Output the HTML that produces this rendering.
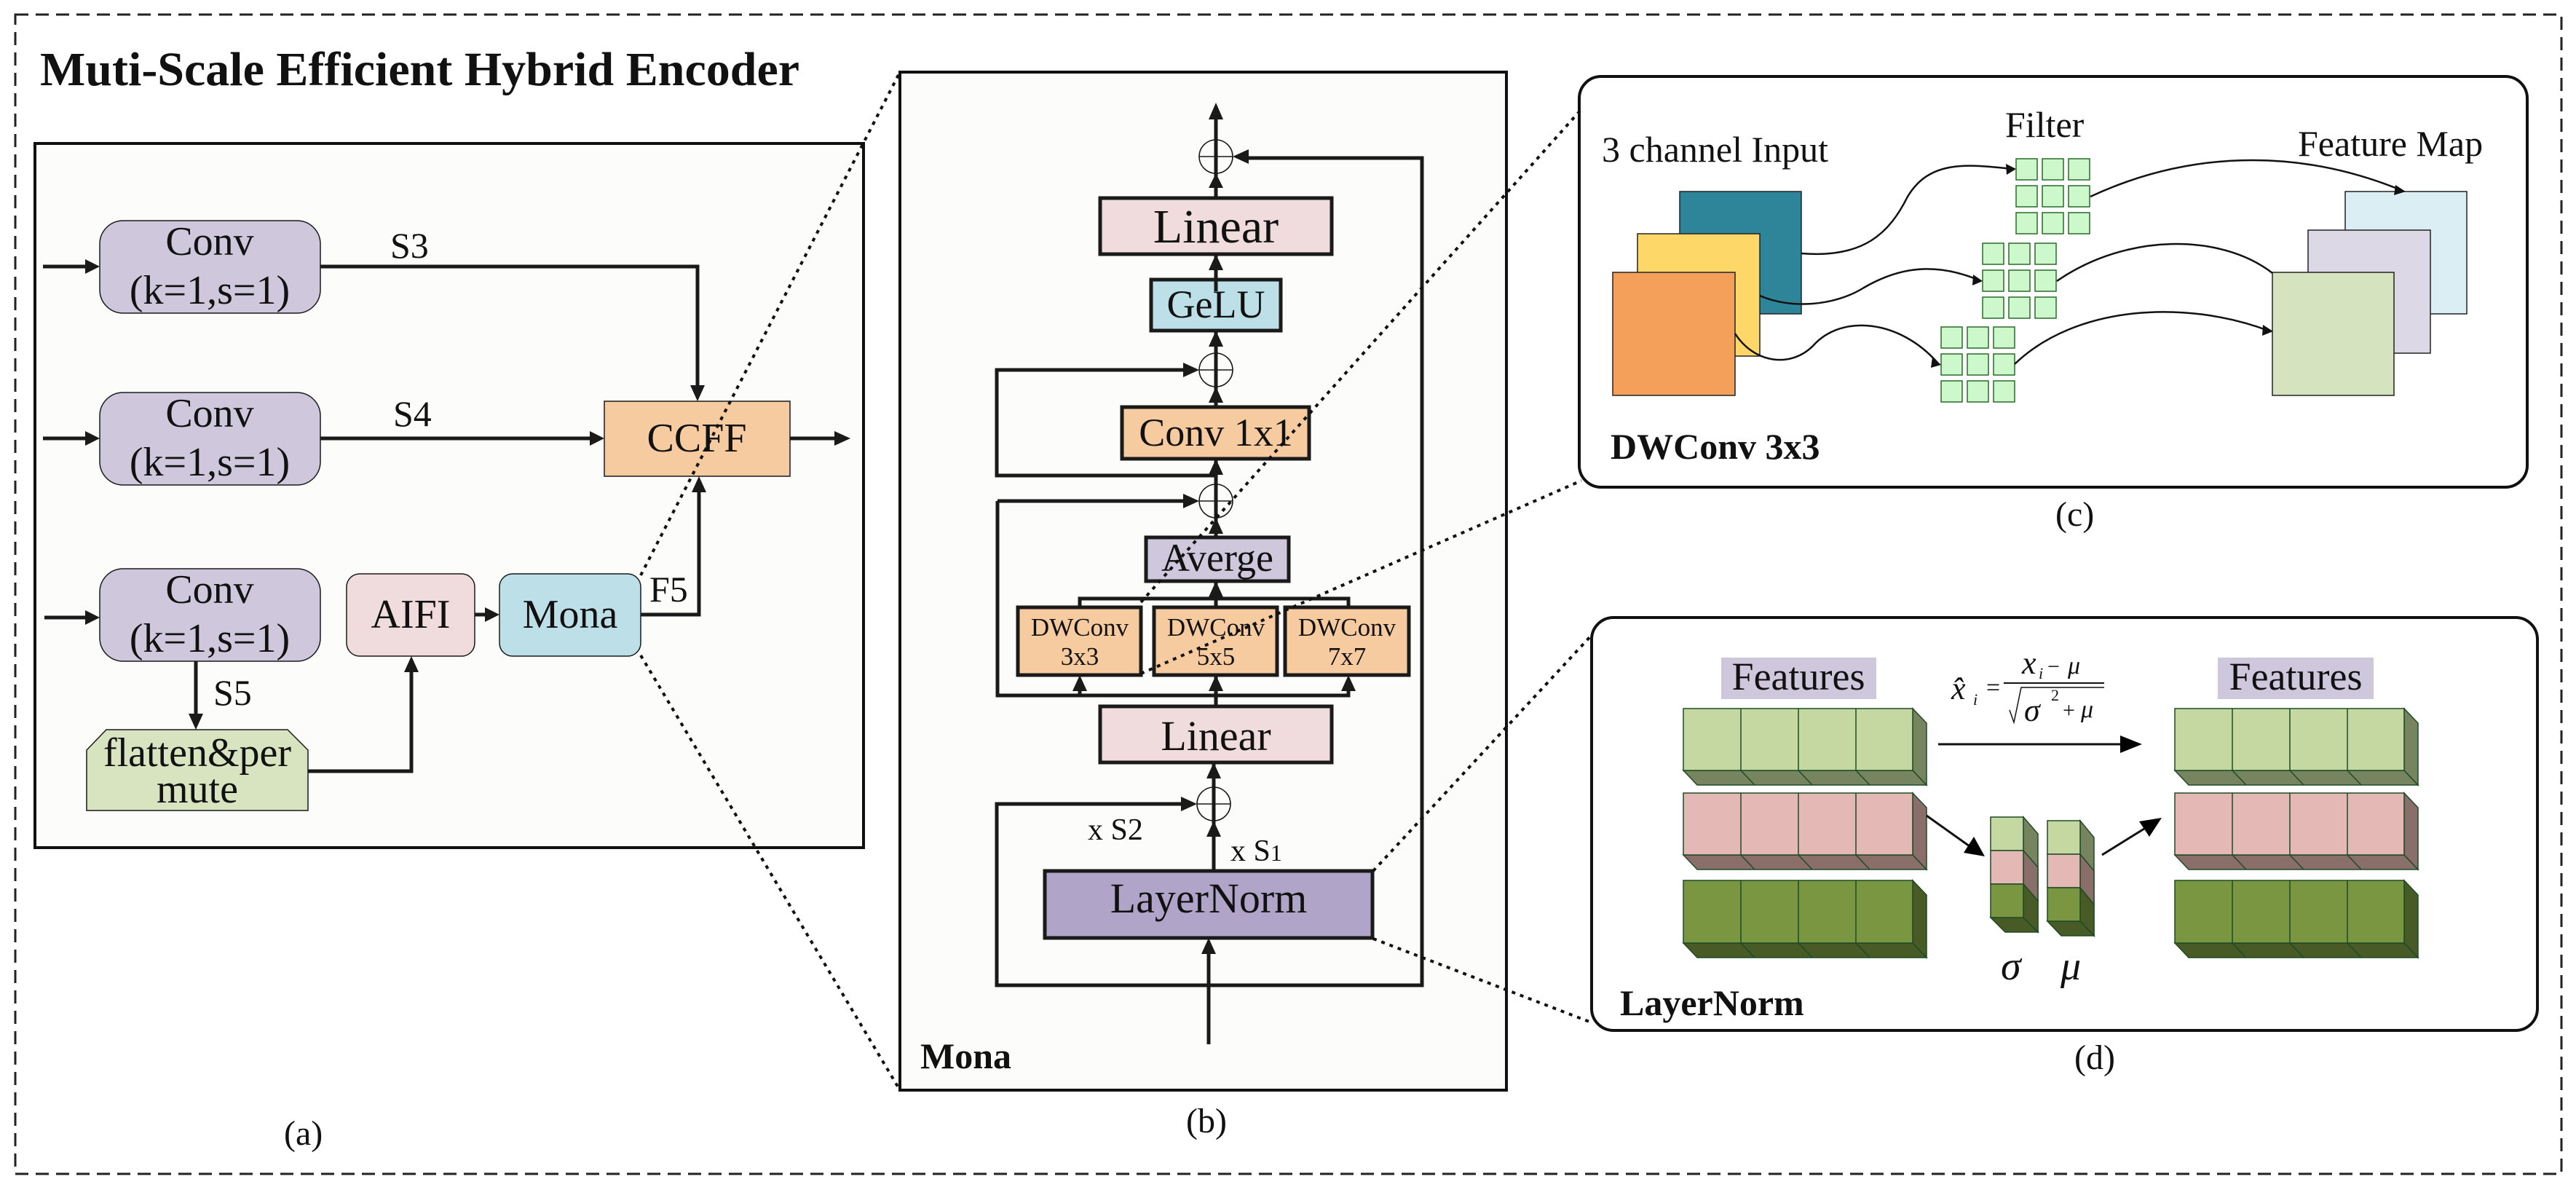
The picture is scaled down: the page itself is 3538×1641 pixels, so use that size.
<!DOCTYPE html>
<html><head><meta charset="utf-8"><style>
html,body{margin:0;padding:0;background:#fff}
svg{display:block}
svg text{font-family:"Liberation Serif","DejaVu Serif",serif;fill:#111}
</style></head><body>
<svg width="3538" height="1641" viewBox="0 0 3538 1641" xmlns="http://www.w3.org/2000/svg" font-family="Liberation Serif, serif">
<rect x="0" y="0" width="3538" height="1641" fill="#fff"/>
<rect x="21" y="20" width="3497" height="1592" fill="none" stroke="#222" stroke-width="3" stroke-dasharray="18,10"/>
<text x="55" y="117" font-size="66" font-weight="bold" font-family="Liberation Serif, serif">Muti-Scale Efficient Hybrid Encoder</text>

<!-- panel a -->
<rect x="48" y="197" width="1138" height="967" fill="#fcfcfa" stroke="#111" stroke-width="4"/>
<g stroke="#1a1a1a" stroke-width="1.5">
<rect x="137" y="303" width="303" height="127" rx="32" fill="#cfc8dc"/>
<rect x="137" y="539" width="303" height="127" rx="32" fill="#cfc8dc"/>
<rect x="137" y="781" width="303" height="127" rx="32" fill="#cfc8dc"/>
<rect x="830" y="551" width="255" height="103" fill="#f7cba0"/>
<rect x="476" y="788" width="176" height="113" rx="18" fill="#f0dcdc"/>
<rect x="686" y="788" width="194" height="113" rx="18" fill="#bde0e8"/>
<polygon points="119,1030 146,1002 395,1002 423,1030 423,1113 119,1113" fill="#d8e4c0"/>
</g>
<g font-size="56" text-anchor="middle" font-family="Liberation Serif, serif">
<text x="288" y="350">Conv</text><text x="288" y="417">(k=1,s=1)</text>
<text x="288" y="586">Conv</text><text x="288" y="653">(k=1,s=1)</text>
<text x="288" y="828">Conv</text><text x="288" y="895">(k=1,s=1)</text>
<text x="957" y="620">CCFF</text>
<text x="564" y="862">AIFI</text>
<text x="783" y="862">Mona</text>
<text x="271" y="1052">flatten&amp;per</text>
<text x="271" y="1102">mute</text>
</g>
<g font-size="50" font-family="Liberation Serif, serif">
<text x="536" y="354">S3</text>
<text x="540" y="585">S4</text>
<text x="293" y="968">S5</text>
<text x="892" y="826">F5</text>
<text x="390" y="1572" font-size="48">(a)</text>
</g>
<g stroke="#1a1a1a" stroke-width="5" fill="none">
<line x1="59" y1="366" x2="122" y2="366"/>
<line x1="59" y1="602" x2="122" y2="602"/>
<line x1="61" y1="848" x2="122" y2="848"/>
<polyline points="440,366 958,366 958,535"/>
<line x1="440" y1="602" x2="815" y2="602"/>
<line x1="1085" y1="602" x2="1152" y2="602"/>
<line x1="269" y1="908" x2="269" y2="985"/>
<polyline points="423,1059 565,1059 565,916"/>
<line x1="652" y1="844" x2="671" y2="844"/>
<polyline points="880,844 960,844 960,669"/>
</g>
<g fill="#1a1a1a">
<polygon points="137,366 117,356 117,376"/>
<polygon points="137,602 117,592 117,612"/>
<polygon points="137,848 117,838 117,858"/>
<polygon points="958,551 948,529 968,529"/>
<polygon points="830,602 810,592 810,612"/>
<polygon points="1168,602 1146,592 1146,612"/>
<polygon points="269,1002 259,980 279,980"/>
<polygon points="565,901 555,923 575,923"/>
<polygon points="686,844 666,834 666,854"/>
<polygon points="960,654 950,676 970,676"/>
</g>

<!-- panel b -->
<rect x="1236" y="99" width="833" height="1398" fill="#fcfcfa" stroke="#111" stroke-width="4"/>
<text x="1264" y="1467" font-size="50" font-weight="bold" font-family="Liberation Serif, serif">Mona</text>
<text x="1629" y="1555" font-size="48" font-family="Liberation Serif, serif">(b)</text>
<g stroke="#1a1a1a" stroke-width="5">
<rect x="1511" y="272" width="318" height="77" fill="#f0dcdc"/>
<rect x="1581" y="384" width="178" height="70" fill="#bde0e8"/>
<rect x="1541" y="559" width="257" height="71" fill="#f7cba0"/>
<rect x="1574" y="738" width="196" height="60" fill="#cfc8dc"/>
<rect x="1398" y="834" width="169" height="93" fill="#f7cba0"/>
<rect x="1585" y="834" width="169" height="93" fill="#f7cba0"/>
<rect x="1765" y="834" width="170" height="93" fill="#f7cba0"/>
<rect x="1511" y="970" width="318" height="77" fill="#f0dcdc"/>
<rect x="1435" y="1196" width="450" height="92" fill="#b0a4c8"/>
</g>
<g text-anchor="middle" font-family="Liberation Serif, serif">
<text x="1670" y="333" font-size="66">Linear</text>
<text x="1670" y="436" font-size="54">GeLU</text>
<text x="1670" y="612" font-size="54">Conv 1x1</text>
<text x="1672" y="784" font-size="54">Averge</text>
<g font-size="35"><text x="1483" y="873">DWConv</text><text x="1483" y="913">3x3</text>
<text x="1670" y="873">DWConv</text><text x="1670" y="913">5x5</text>
<text x="1850" y="873">DWConv</text><text x="1850" y="913">7x7</text></g>
<text x="1670" y="1030" font-size="58">Linear</text>
<text x="1660" y="1253" font-size="58">LayerNorm</text>
</g>
<text x="1494" y="1153" font-size="42" font-family="Liberation Serif, serif">x S2</text>
<text x="1690" y="1182" font-size="42" font-family="Liberation Serif, serif">x S<tspan font-size="32">1</tspan></text>
<g stroke="#1a1a1a" stroke-width="5" fill="none">
<line x1="1670" y1="160" x2="1670" y2="272"/>
<line x1="1670" y1="349" x2="1670" y2="400"/>
<line x1="1670" y1="454" x2="1670" y2="559"/>
<line x1="1670" y1="630" x2="1670" y2="738"/>
<line x1="1670" y1="798" x2="1670" y2="834"/>
<polyline points="1483,834 1483,822 1852,822 1852,834"/>
<line x1="1670" y1="927" x2="1670" y2="970"/>
<polyline points="1370,688 1370,955 1852,955 1852,945"/>
<line x1="1483" y1="955" x2="1483" y2="945"/>
<polyline points="1670,653 1369,653 1369,508 1627,508"/>
<line x1="1370" y1="688" x2="1627" y2="688"/>
<line x1="1667" y1="1047" x2="1667" y2="1196"/>
<polyline points="1670,1353 1369,1353 1369,1104 1625,1104"/>
<polyline points="1670,1353 1953,1353 1953,217 1715,217"/>
<line x1="1660" y1="1434" x2="1660" y2="1305"/>
</g>
<g fill="#1a1a1a">
<polygon points="1670,141 1660,164 1680,164"/>
<polygon points="1670,238 1660,258 1680,258"/>
<polygon points="1670,349 1660,371 1680,371"/>
<polygon points="1670,454 1660,476 1680,476"/>
<polygon points="1670,531 1660,553 1680,553"/>
<polygon points="1670,630 1660,652 1680,652"/>
<polygon points="1670,711 1660,733 1680,733"/>
<polygon points="1670,798 1660,820 1680,820"/>
<polygon points="1483,927 1473,949 1493,949"/>
<polygon points="1670,927 1660,949 1680,949"/>
<polygon points="1852,927 1842,949 1862,949"/>
<polygon points="1667,1047 1657,1069 1677,1069"/>
<polygon points="1667,1127 1657,1149 1677,1149"/>
<polygon points="1660,1288 1650,1310 1670,1310"/>
<polygon points="1647,508 1625,498 1625,518"/>
<polygon points="1647,688 1625,678 1625,698"/>
<polygon points="1644,1104 1622,1094 1622,1114"/>
<polygon points="1693,215 1715,205 1715,225"/>
</g>
<g fill="none" stroke="#1a1a1a" stroke-width="1.6">
<ellipse cx="1670" cy="215" rx="23" ry="23"/><line x1="1647" y1="215" x2="1693" y2="215"/>
<ellipse cx="1670" cy="508" rx="23" ry="23"/><line x1="1647" y1="508" x2="1693" y2="508"/>
<ellipse cx="1670" cy="688" rx="23" ry="23"/><line x1="1647" y1="688" x2="1693" y2="688"/>
<ellipse cx="1667" cy="1104" rx="23" ry="23"/><line x1="1644" y1="1104" x2="1690" y2="1104"/>
</g>

<!-- panel c -->
<rect x="2169" y="105" width="1302" height="564" rx="30" fill="#fff" stroke="#111" stroke-width="4"/>
<g font-family="Liberation Serif, serif">
<text x="2200" y="222" font-size="50">3 channel Input</text>
<text x="2754" y="188" font-size="50">Filter</text>
<text x="3156" y="214" font-size="50">Feature Map</text>
<text x="2212" y="630" font-size="50" font-weight="bold">DWConv 3x3</text>
<text x="2823" y="722" font-size="48">(c)</text>
</g>
<g stroke="#222" stroke-width="1.5">
<rect x="2307" y="263" width="167" height="168" fill="#2e8599"/>
<rect x="2249" y="321" width="168" height="168" fill="#fdd868"/>
<rect x="2215" y="374" width="168" height="169" fill="#f4a05a"/>
<rect x="3221" y="263" width="167" height="168" fill="#daeef3"/>
<rect x="3170" y="316" width="168" height="169" fill="#dcd8e6"/>
<rect x="3121" y="374" width="167" height="169" fill="#d6e3bf"/>
</g>
<g fill="#ccf8cc" stroke="#2a6a2a" stroke-width="1.5">
<rect x="2769" y="218" width="29" height="29"/><rect x="2805" y="218" width="29" height="29"/><rect x="2841" y="218" width="29" height="29"/>
<rect x="2769" y="255" width="29" height="29"/><rect x="2805" y="255" width="29" height="29"/><rect x="2841" y="255" width="29" height="29"/>
<rect x="2769" y="292" width="29" height="29"/><rect x="2805" y="292" width="29" height="29"/><rect x="2841" y="292" width="29" height="29"/>
<rect x="2723" y="334" width="29" height="29"/><rect x="2759" y="334" width="29" height="29"/><rect x="2795" y="334" width="29" height="29"/>
<rect x="2723" y="371" width="29" height="29"/><rect x="2759" y="371" width="29" height="29"/><rect x="2795" y="371" width="29" height="29"/>
<rect x="2723" y="408" width="29" height="29"/><rect x="2759" y="408" width="29" height="29"/><rect x="2795" y="408" width="29" height="29"/>
<rect x="2666" y="449" width="29" height="29"/><rect x="2702" y="449" width="29" height="29"/><rect x="2738" y="449" width="29" height="29"/>
<rect x="2666" y="486" width="29" height="29"/><rect x="2702" y="486" width="29" height="29"/><rect x="2738" y="486" width="29" height="29"/>
<rect x="2666" y="523" width="29" height="29"/><rect x="2702" y="523" width="29" height="29"/><rect x="2738" y="523" width="29" height="29"/>
</g>
<g fill="none" stroke="#111" stroke-width="2.5">
<path d="M2474,348 C2560,355 2595,320 2620,270 C2650,220 2700,225 2764,232"/>
<path d="M2417,406 C2460,425 2520,420 2560,395 C2620,360 2670,365 2719,385"/>
<path d="M2383,458 C2410,500 2460,505 2490,475 C2530,430 2610,440 2661,498"/>
<path d="M2871,270 C3000,210 3150,200 3300,262"/>
<path d="M2825,386 C2920,320 3050,320 3121,375"/>
<path d="M2767,500 C2850,420 3000,410 3118,455"/>
</g>
<g fill="#111">
<polygon points="2769,232 2755,225 2756,240"/>
<polygon points="2723,386 2710,377 2709,392"/>
<polygon points="2666,501 2654,490 2652,505"/>
<polygon points="3304,263 3290,254 3288,268"/>
<polygon points="3122,455 3108,446 3107,461"/>
</g>
<line x1="1567" y1="827" x2="2172" y2="150" stroke="#111" stroke-width="4" stroke-dasharray="5,7"/>
<line x1="1567" y1="925" x2="2172" y2="660" stroke="#111" stroke-width="4" stroke-dasharray="5,7"/>
<line x1="880" y1="790" x2="1236" y2="99" stroke="#111" stroke-width="4" stroke-dasharray="5,7"/>
<line x1="880" y1="900" x2="1236" y2="1497" stroke="#111" stroke-width="4" stroke-dasharray="5,7"/>
<line x1="1886" y1="1196" x2="2188" y2="870" stroke="#111" stroke-width="4" stroke-dasharray="5,7"/>
<line x1="1886" y1="1289" x2="2188" y2="1405" stroke="#111" stroke-width="4" stroke-dasharray="5,7"/>

<!-- panel d -->
<rect x="2186" y="848" width="1299" height="567" rx="30" fill="#fff" stroke="#111" stroke-width="4"/>
<rect x="2364" y="903" width="213" height="57" fill="#cfc8dc"/>
<rect x="3046" y="903" width="214" height="57" fill="#cfc8dc"/>
<g font-family="Liberation Serif, serif">
<text x="2470" y="947" font-size="54" text-anchor="middle">Features</text>
<text x="3153" y="947" font-size="54" text-anchor="middle">Features</text>
<text x="2225" y="1394" font-size="50" font-weight="bold">LayerNorm</text>
<text x="2849" y="1468" font-size="48">(d)</text>
</g>
<g stroke="#1e4a24" stroke-width="1.5">
<g id="r1">
<polygon points="2312,1058 2627,1058 2646,1078 2331,1078" fill="#768560"/>
<polygon points="2627,973 2646,993 2646,1078 2627,1058" fill="#768560"/>
<rect x="2312" y="973" width="315" height="85" fill="#c5d8a2"/>
<line x1="2391" y1="973" x2="2391" y2="1058"/><line x1="2470" y1="973" x2="2470" y2="1058"/><line x1="2549" y1="973" x2="2549" y2="1058"/>
<line x1="2391" y1="1058" x2="2410" y2="1078"/><line x1="2470" y1="1058" x2="2489" y2="1078"/><line x1="2549" y1="1058" x2="2568" y2="1078"/>
</g>
<g id="r2">
<polygon points="2312,1174 2627,1174 2646,1194 2331,1194" fill="#8a6e6a"/>
<polygon points="2627,1089 2646,1109 2646,1194 2627,1174" fill="#8a6e6a"/>
<rect x="2312" y="1089" width="315" height="85" fill="#e4b8b4"/>
<line x1="2391" y1="1089" x2="2391" y2="1174"/><line x1="2470" y1="1089" x2="2470" y2="1174"/><line x1="2549" y1="1089" x2="2549" y2="1174"/>
<line x1="2391" y1="1174" x2="2410" y2="1194"/><line x1="2470" y1="1174" x2="2489" y2="1194"/><line x1="2549" y1="1174" x2="2568" y2="1194"/>
</g>
<g id="r3">
<polygon points="2312,1295 2627,1295 2646,1315 2331,1315" fill="#485a26"/>
<polygon points="2627,1209 2646,1229 2646,1315 2627,1295" fill="#485a26"/>
<rect x="2312" y="1209" width="315" height="86" fill="#7a9640"/>
<line x1="2391" y1="1209" x2="2391" y2="1295"/><line x1="2470" y1="1209" x2="2470" y2="1295"/><line x1="2549" y1="1209" x2="2549" y2="1295"/>
<line x1="2391" y1="1295" x2="2410" y2="1315"/><line x1="2470" y1="1295" x2="2489" y2="1315"/><line x1="2549" y1="1295" x2="2568" y2="1315"/>
</g>
<use href="#r1" x="675"/><use href="#r2" x="675"/><use href="#r3" x="675"/>
<polygon points="2779,1122 2799,1145 2799,1280 2779,1260" fill="#768560"/>
<polygon points="2779,1168 2799,1191 2799,1237 2779,1214" fill="#8a6e6a"/>
<polygon points="2779,1214 2799,1237 2799,1280 2779,1260" fill="#485a26"/>
<polygon points="2734,1260 2779,1260 2799,1280 2754,1280" fill="#485a26"/>
<rect x="2734" y="1122" width="45" height="46" fill="#c5d8a2"/>
<rect x="2734" y="1168" width="45" height="46" fill="#e4b8b4"/>
<rect x="2734" y="1214" width="45" height="46" fill="#7a9640"/>
<polygon points="2857,1127 2876,1150 2876,1285 2857,1265" fill="#768560"/>
<polygon points="2857,1173 2876,1196 2876,1242 2857,1219" fill="#8a6e6a"/>
<polygon points="2857,1219 2876,1242 2876,1285 2857,1265" fill="#485a26"/>
<polygon points="2812,1265 2857,1265 2876,1285 2831,1285" fill="#485a26"/>
<rect x="2812" y="1127" width="45" height="46" fill="#c5d8a2"/>
<rect x="2812" y="1173" width="45" height="46" fill="#e4b8b4"/>
<rect x="2812" y="1219" width="45" height="46" fill="#7a9640"/>
</g>
<text x="2748" y="1345" font-size="56" font-style="italic" font-family="Liberation Serif, serif">σ</text>
<text x="2830" y="1345" font-size="56" font-style="italic" font-family="Liberation Serif, serif">μ</text>
<g stroke="#111" stroke-width="3">
<line x1="2662" y1="1022" x2="2915" y2="1022"/>
<line x1="2646" y1="1120" x2="2705" y2="1162"/>
<line x1="2887" y1="1174" x2="2945" y2="1138"/>
</g>
<g fill="#000">
<polygon points="2942,1022 2912,1010 2912,1034"/>
<polygon points="2726,1176 2697,1171 2711,1149"/>
<polygon points="2969,1123 2952,1149 2938,1128"/>
</g>
<g font-style="italic" font-family="Liberation Serif, serif">
<text x="2680" y="960" font-size="44">x̂</text><text x="2710" y="968" font-size="22">i</text>
<text x="2728" y="955" font-size="34" font-style="normal">=</text>
<text x="2777" y="925" font-size="44">x</text><text x="2800" y="932" font-size="22">i</text>
<text x="2812" y="925" font-size="30" font-style="normal">−</text><text x="2840" y="925" font-size="34">μ</text>
<text x="2780" y="990" font-size="44">σ</text><text x="2817" y="962" font-size="22" font-style="normal">2</text>
<text x="2833" y="985" font-size="30" font-style="normal">+</text><text x="2858" y="985" font-size="34">μ</text>
</g>
<line x1="2752" y1="938" x2="2890" y2="938" stroke="#111" stroke-width="2"/>
<polyline points="2760,975 2766,992 2776,944 2890,944" fill="none" stroke="#111" stroke-width="1.5"/>
</svg>
</body></html>
